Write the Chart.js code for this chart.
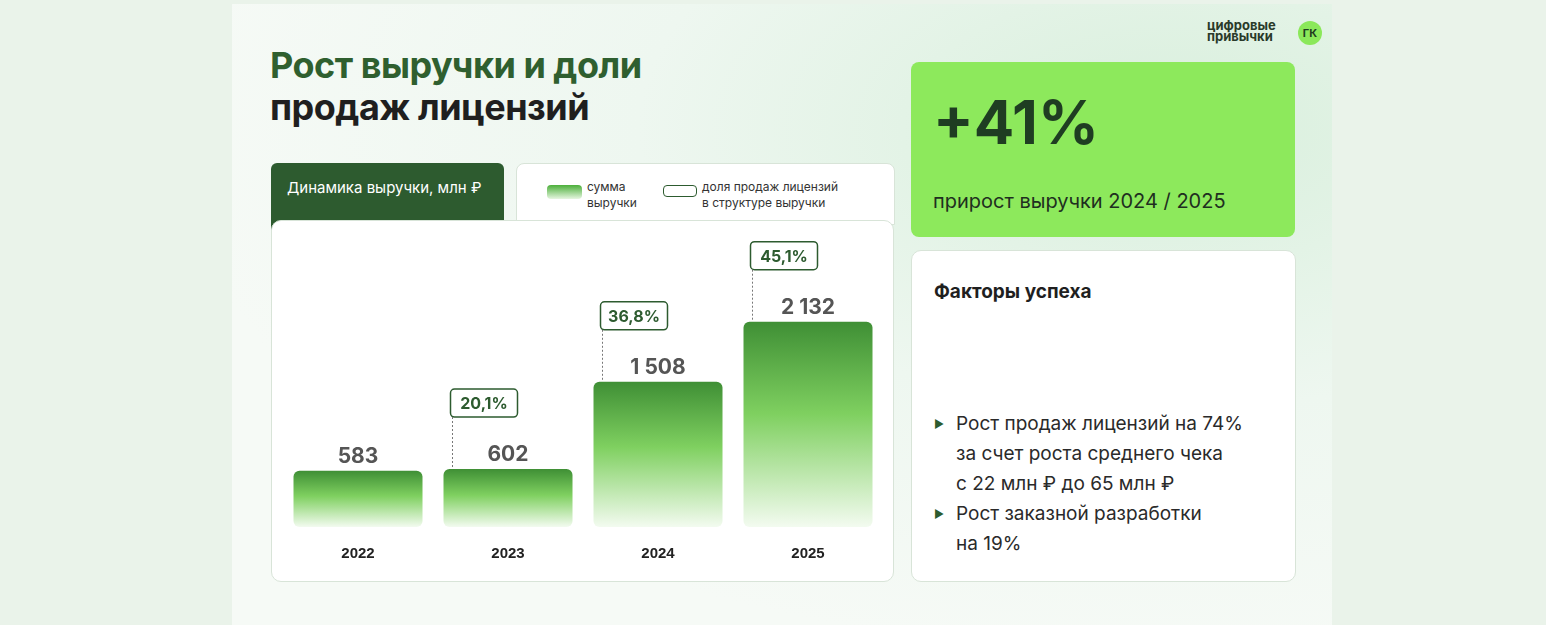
<!DOCTYPE html>
<html><head><meta charset="utf-8">
<script src="https://cdn.jsdelivr.net/npm/chart.js@4"></script>
<style>
body{margin:0;width:1546px;height:625px;background:#eaf3ea;font-family:Inter,"Noto Sans",sans-serif;position:relative;overflow:hidden}
.slide{position:absolute;left:232px;top:4px;width:1100px;height:621px;background:radial-gradient(ellipse at 85% 20%,#d8efdc 0%,#eef7f0 40%,#f6faf6 75%)}
.abs{position:absolute}
.card{background:#fff;border:1px solid #d8e4d8;border-radius:10px}
</style></head><body>
<div class="slide"></div>
<div class="abs" style="left:270px;top:44px;font-size:36px;font-weight:700;line-height:42px;letter-spacing:-0.5px"><span style="color:#2f5f2f">Рост выручки и доли</span><br><span style="color:#1f1f1f">продаж лицензий</span></div>
<div class="abs" style="left:1207px;top:20px;font-size:13px;font-weight:700;line-height:11px;color:#2a3a2a">цифровые<br>привычки</div>
<div class="abs" style="left:1298px;top:21px;width:24px;height:24px;border-radius:12px;background:#8be85a;font-size:11px;font-weight:700;text-align:center;line-height:24px;color:#1f3d1f">ГК</div>
<div class="abs" style="left:271px;top:163px;width:233px;height:70px;background:#2d5b2f;border-radius:6px 6px 0 0;color:#fff;font-size:15px;line-height:50px;text-indent:16px">Динамика выручки, млн ₽</div>
<div class="abs card" style="left:516px;top:163px;width:377px;height:60px;border-radius:8px 8px 0 0">
 <div class="abs" style="left:30px;top:21px;width:35px;height:14px;border-radius:4px;background:linear-gradient(#4caf3a,#e6f6e0)"></div>
 <div class="abs" style="left:70px;top:15px;font-size:12px;line-height:16px;color:#333">сумма<br>выручки</div>
 <div class="abs" style="left:146px;top:21px;width:32px;height:10px;border-radius:4px;border:1.5px solid #2d5b2f"></div>
 <div class="abs" style="left:185px;top:15px;font-size:12px;line-height:16px;color:#333">доля продаж лицензий<br>в структуре выручки</div>
</div>
<div class="abs card" style="left:271px;top:220px;width:621px;height:360px;overflow:hidden"><canvas id="c" width="621" height="360"></canvas></div>
<div class="abs" style="left:911px;top:62px;width:384px;height:175px;background:#8de95c;border-radius:8px">
 <div class="abs" style="left:22px;top:24px;font-size:60px;font-weight:700;color:#1f3d22">+41%</div>
 <div class="abs" style="left:22px;top:127px;font-size:20px;color:#1f2f1f">прирост выручки 2024 / 2025</div>
</div>
<div class="abs card" style="left:911px;top:250px;width:383px;height:330px">
 <div class="abs" style="left:22px;top:29px;font-size:19px;font-weight:700;color:#1f1f1f">Факторы успеха</div>
 <div class="abs" style="left:22px;top:158px;font-size:19px;line-height:30px;color:#2a2a2a">
  <div style="position:relative;padding-left:22px"><span style="position:absolute;left:0;font-size:11px;color:#2d5b2f">▶</span>Рост продаж лицензий на 74%<br>за счет роста среднего чека<br>с 22 млн ₽ до 65 млн ₽</div>
  <div style="position:relative;padding-left:22px"><span style="position:absolute;left:0;font-size:11px;color:#2d5b2f">▶</span>Рост заказной разработки<br>на 19%</div>
 </div>
</div>
<script>
const years = ["2022", "2023", "2024", "2025"];
const revenue = [583, 602, 1508, 2132];
const licenseShare = [null, "20,1%", "36,8%", "45,1%"];
const revenueLabels = ["583", "602", "1 508", "2 132"];

const labelsPlugin = {
	id: "labels",
	afterDatasetsDraw(chart) {
		const ctx = chart.ctx;
		const meta = chart.getDatasetMeta(0);
		meta.data.forEach((bar, i) => {
			const left = bar.x - bar.width / 2;
			ctx.save();
			ctx.fillStyle = "#555";
			ctx.font = "bold 21px Inter, sans-serif";
			ctx.textAlign = "center";
			ctx.fillText(revenueLabels[i], bar.x, bar.y - 8);
			if (licenseShare[i]) {
				const bx = left + 7, by = bar.y - 80, bw = 67, bh = 28;
				ctx.strokeStyle = "#2d5b2f";
				ctx.lineWidth = 1.5;
				ctx.beginPath();
				ctx.roundRect(bx, by, bw, bh, 4);
				ctx.fillStyle = "#fff";
				ctx.fill();
				ctx.stroke();
				ctx.setLineDash([2, 2]);
				ctx.lineWidth = 1;
				ctx.strokeStyle = "#777";
				ctx.beginPath();
				ctx.moveTo(bx + 2, by + bh);
				ctx.lineTo(bx + 2, bar.y);
				ctx.stroke();
				ctx.fillStyle = "#2d5b2f";
				ctx.font = "bold 16px Inter, sans-serif";
				ctx.fillText(licenseShare[i], bx + bw / 2, by + 20);
			}
			ctx.restore();
		});
	}
};

new Chart(document.querySelector("#c"), {
	type: "bar",
	data: {
		labels: years,
		datasets: [{
			data: revenue,
			borderRadius: 6,
			borderSkipped: false,
			barPercentage: 0.86,
			categoryPercentage: 1,
			backgroundColor: function (context) {
				const chart = context.chart;
				const area = chart.chartArea;
				if (!area || !chart.scales.y) return "#5bb545";
				const top = chart.scales.y.getPixelForValue(context.raw);
				const g = chart.ctx.createLinearGradient(0, top, 0, area.bottom);
				g.addColorStop(0, "#3f8f35");
				g.addColorStop(0.45, "#7fd060");
				g.addColorStop(1, "#f3fbf0");
				return g;
			}
		}]
	},
	options: {
		responsive: false,
		animation: false,
		layout: { padding: { left: 11, right: 10, top: 20, bottom: 8 } },
		plugins: { legend: { display: false }, tooltip: { enabled: false } },
		scales: {
			x: {
				grid: { display: false },
				border: { display: false },
				ticks: { color: "#222", font: { size: 15, weight: "bold" }, padding: 10 }
			},
			y: { display: false, min: 0, max: 2970 }
		}
	},
	plugins: [labelsPlugin]
});
</script>
</body></html>
